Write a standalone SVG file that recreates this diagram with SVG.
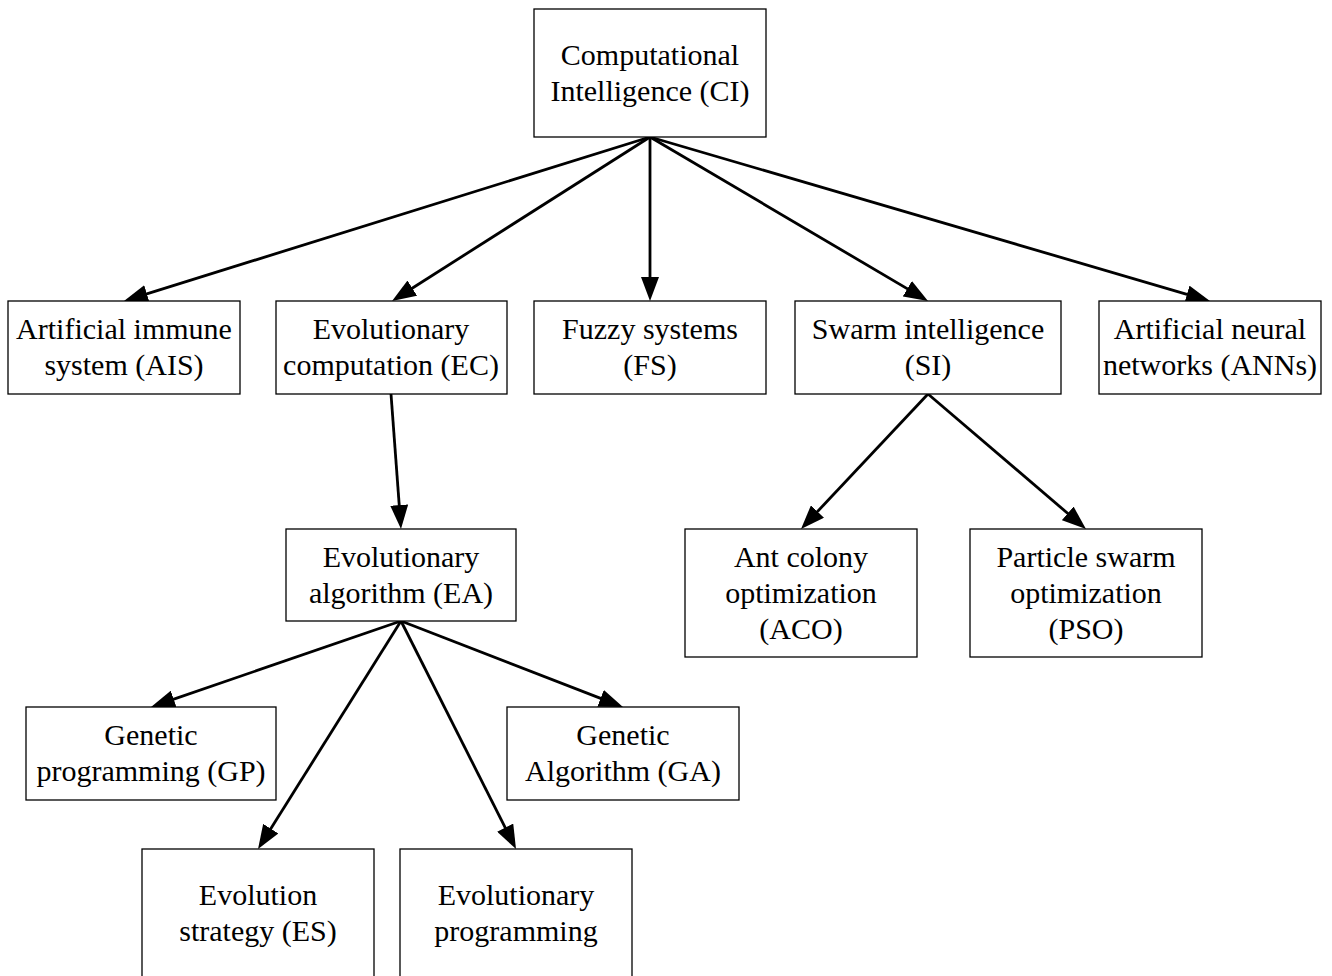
<svg xmlns="http://www.w3.org/2000/svg" width="1332" height="976" viewBox="0 0 1332 976">
  <style>
    .box { fill: #ffffff; stroke: #000000; stroke-width: 1.3; }
    .lbl { font-family: "Liberation Serif", "Times New Roman", serif; font-size: 30px; fill: #000000; text-anchor: middle; }
    .edge { fill: none; stroke: #000000; stroke-width: 2.8; marker-end: url(#arrow); }
  </style>
  <defs>
    <!-- filled arrowhead; the line stops 8px short of the tip -->
    <marker id="arrow" viewBox="0 0 24 18" refX="16" refY="9" markerWidth="24" markerHeight="18" markerUnits="userSpaceOnUse" orient="auto">
      <path d="M0,0 L24,9 L0,18 z" fill="#000000"/>
    </marker>
  </defs>
  <rect width="1332" height="976" fill="#ffffff"/>

  <g id="connectors">
    <line class="edge" x1="650" y1="137" x2="131.6" y2="298.6"/>
    <line class="edge" x1="650" y1="137" x2="398.8" y2="296.7"/>
    <line class="edge" x1="650" y1="137" x2="650" y2="293"/>
    <line class="edge" x1="650" y1="137" x2="921.1" y2="296.9"/>
    <line class="edge" x1="650" y1="137" x2="1202.3" y2="298.8"/>
    <line class="edge" x1="391" y1="394" x2="400.4" y2="521"/>
    <line class="edge" x1="928" y1="394" x2="806.5" y2="523.2"/>
    <line class="edge" x1="928" y1="394" x2="1079.9" y2="523.8"/>
    <line class="edge" x1="401" y1="621" x2="158.6" y2="704.4"/>
    <line class="edge" x1="401" y1="621" x2="262.3" y2="842.2"/>
    <line class="edge" x1="401" y1="621" x2="512.4" y2="841.9"/>
    <line class="edge" x1="401" y1="621" x2="615.5" y2="704.1"/>
  </g>

  <g id="ci">
    <rect class="box" x="534" y="9" width="232" height="128"/>
    <text class="lbl" x="650" y="65">Computational</text>
    <text class="lbl" x="650" y="101">Intelligence (CI)</text>
  </g>
  <g id="ais">
    <rect class="box" x="8" y="301" width="232" height="93"/>
    <text class="lbl" x="124" y="339">Artificial immune</text>
    <text class="lbl" x="124" y="375">system (AIS)</text>
  </g>
  <g id="ec">
    <rect class="box" x="276" y="301" width="231" height="93"/>
    <text class="lbl" x="391" y="339">Evolutionary</text>
    <text class="lbl" x="391" y="375">computation (EC)</text>
  </g>
  <g id="fs">
    <rect class="box" x="534" y="301" width="232" height="93"/>
    <text class="lbl" x="650" y="339">Fuzzy systems</text>
    <text class="lbl" x="650" y="375">(FS)</text>
  </g>
  <g id="si">
    <rect class="box" x="795" y="301" width="266" height="93"/>
    <text class="lbl" x="928" y="339">Swarm intelligence</text>
    <text class="lbl" x="928" y="375">(SI)</text>
  </g>
  <g id="ann">
    <rect class="box" x="1099" y="301" width="222" height="93"/>
    <text class="lbl" x="1210" y="339">Artificial neural</text>
    <text class="lbl" x="1210" y="375">networks (ANNs)</text>
  </g>
  <g id="ea">
    <rect class="box" x="286" y="529" width="230" height="92"/>
    <text class="lbl" x="401" y="567">Evolutionary</text>
    <text class="lbl" x="401" y="603">algorithm (EA)</text>
  </g>
  <g id="aco">
    <rect class="box" x="685" y="529" width="232" height="128"/>
    <text class="lbl" x="801" y="567">Ant colony</text>
    <text class="lbl" x="801" y="603">optimization</text>
    <text class="lbl" x="801" y="639">(ACO)</text>
  </g>
  <g id="pso">
    <rect class="box" x="970" y="529" width="232" height="128"/>
    <text class="lbl" x="1086" y="567">Particle swarm</text>
    <text class="lbl" x="1086" y="603">optimization</text>
    <text class="lbl" x="1086" y="639">(PSO)</text>
  </g>
  <g id="gp">
    <rect class="box" x="26" y="707" width="250" height="93"/>
    <text class="lbl" x="151" y="745">Genetic</text>
    <text class="lbl" x="151" y="781">programming (GP)</text>
  </g>
  <g id="ga">
    <rect class="box" x="507" y="707" width="232" height="93"/>
    <text class="lbl" x="623" y="745">Genetic</text>
    <text class="lbl" x="623" y="781">Algorithm (GA)</text>
  </g>
  <g id="es">
    <rect class="box" x="142" y="849" width="232" height="140"/>
    <text class="lbl" x="258" y="905">Evolution</text>
    <text class="lbl" x="258" y="941">strategy (ES)</text>
  </g>
  <g id="ep">
    <rect class="box" x="400" y="849" width="232" height="140"/>
    <text class="lbl" x="516" y="905">Evolutionary</text>
    <text class="lbl" x="516" y="941">programming</text>
  </g>
</svg>
